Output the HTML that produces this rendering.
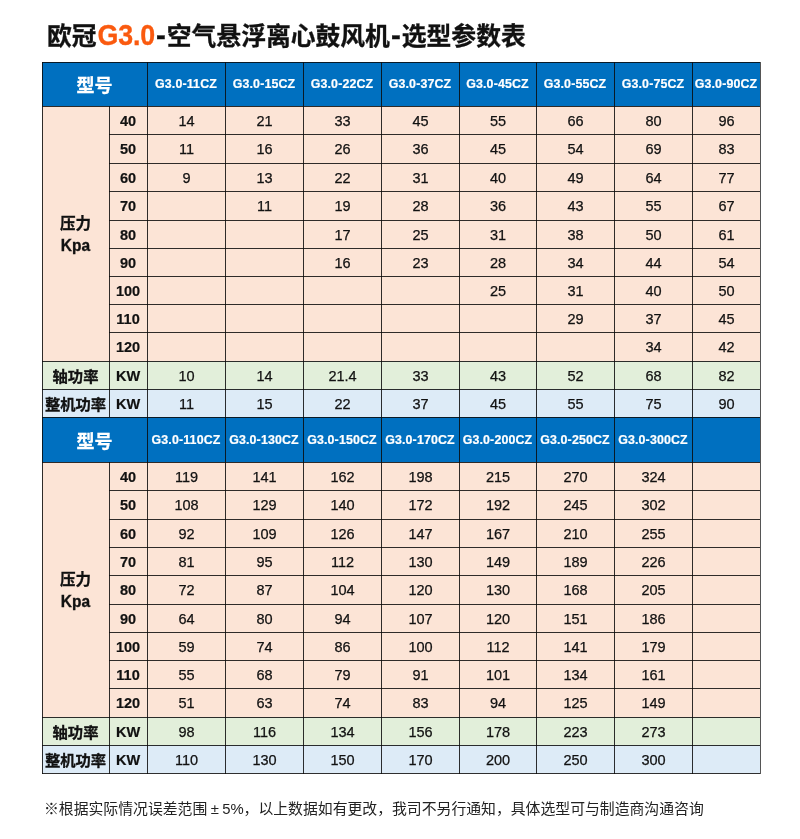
<!DOCTYPE html>
<html lang="zh-CN"><head><meta charset="utf-8"><title>欧冠G3.0-空气悬浮离心鼓风机-选型参数表</title>
<style>
html,body{margin:0;padding:0;background:#fff}
body{width:800px;height:839px;position:relative;overflow:hidden;font-family:"Liberation Sans","Noto Sans CJK SC",sans-serif;color:#111}
.c{position:absolute;display:flex;align-items:center;justify-content:center;text-align:center;white-space:nowrap;box-sizing:border-box}
.l{position:absolute;background:rgba(10,10,10,0.85)}
.r{background:#555}
.hm{color:#fff;font-weight:bold;font-size:18px;-webkit-text-stroke:0.3px #fff}
.hc{color:#fff;font-weight:bold;font-size:12.4px;letter-spacing:0.15px;-webkit-text-stroke:0.2px #fff}
.pl{font-weight:bold;font-size:15.5px;line-height:23px;padding-top:3px;-webkit-text-stroke:0.3px #111}
.rl{font-weight:bold;font-size:15.3px;-webkit-text-stroke:0.3px #111}
.k{font-weight:bold;font-size:14.5px;padding-top:1px;-webkit-text-stroke:0.2px #111}
.d{font-size:14.5px;padding-top:1px;padding-left:1px;-webkit-text-stroke:0.25px #111}

.kp{display:inline-block;transform:scaleY(1.1);transform-origin:50% 70%;position:relative;top:-1px}
.pm{display:inline-block;width:1em;text-align:center}
h1{position:absolute;left:47px;top:19px;margin:0;font-size:24.8px;line-height:36px;font-weight:bold;white-space:nowrap;color:#111;-webkit-text-stroke:0.3px #111}
h1 b{color:#fa5a0f;font-size:26.8px;letter-spacing:-0.2px;-webkit-text-stroke:0.3px #fa5a0f;display:inline-block;margin-left:1px;transform:scaleY(1.07);transform-origin:50% 78%;line-height:30px}
h1 i{font-style:normal;font-size:29.5px;line-height:20px;position:relative;top:0px;margin:0 1px}
.note{position:absolute;left:44px;top:798px;margin:0;font-size:14.85px;line-height:22px;white-space:nowrap;color:#222}
</style></head><body>
<h1>欧冠<b>G3.0</b><i>-</i>空气悬浮离心鼓风机<i>-</i>选型参数表</h1>
<div class="c hm" style="left:42px;top:62px;width:105px;height:44px;background:#0070c0">型号</div>
<div class="c hc" style="left:147px;top:62px;width:78px;height:44px;background:#0070c0">G3.0-11CZ</div>
<div class="c hc" style="left:225px;top:62px;width:78px;height:44px;background:#0070c0">G3.0-15CZ</div>
<div class="c hc" style="left:303px;top:62px;width:78px;height:44px;background:#0070c0">G3.0-22CZ</div>
<div class="c hc" style="left:381px;top:62px;width:78px;height:44px;background:#0070c0">G3.0-37CZ</div>
<div class="c hc" style="left:459px;top:62px;width:77px;height:44px;background:#0070c0">G3.0-45CZ</div>
<div class="c hc" style="left:536px;top:62px;width:78px;height:44px;background:#0070c0">G3.0-55CZ</div>
<div class="c hc" style="left:614px;top:62px;width:78px;height:44px;background:#0070c0">G3.0-75CZ</div>
<div class="c hc" style="left:692px;top:62px;width:68px;height:44px;background:#0070c0">G3.0-90CZ</div>
<div class="c pl" style="left:42px;top:106px;width:67px;height:255px;background:#fce4d6"><div>压力<br><span class="kp">Kpa</span></div></div>
<div class="c rl" style="left:42px;top:361px;width:67px;height:28px;background:#e2efda">轴功率</div>
<div class="c rl" style="left:42px;top:389px;width:67px;height:28px;background:#ddebf7">整机功率</div>
<div class="c k" style="left:109px;top:106px;width:38px;height:28px;background:#fce4d6">40</div>
<div class="c d" style="left:147px;top:106px;width:78px;height:28px;background:#fce4d6">14</div>
<div class="c d" style="left:225px;top:106px;width:78px;height:28px;background:#fce4d6">21</div>
<div class="c d" style="left:303px;top:106px;width:78px;height:28px;background:#fce4d6">33</div>
<div class="c d" style="left:381px;top:106px;width:78px;height:28px;background:#fce4d6">45</div>
<div class="c d" style="left:459px;top:106px;width:77px;height:28px;background:#fce4d6">55</div>
<div class="c d" style="left:536px;top:106px;width:78px;height:28px;background:#fce4d6">66</div>
<div class="c d" style="left:614px;top:106px;width:78px;height:28px;background:#fce4d6">80</div>
<div class="c d" style="left:692px;top:106px;width:68px;height:28px;background:#fce4d6">96</div>
<div class="c k" style="left:109px;top:134px;width:38px;height:29px;background:#fce4d6">50</div>
<div class="c d" style="left:147px;top:134px;width:78px;height:29px;background:#fce4d6">11</div>
<div class="c d" style="left:225px;top:134px;width:78px;height:29px;background:#fce4d6">16</div>
<div class="c d" style="left:303px;top:134px;width:78px;height:29px;background:#fce4d6">26</div>
<div class="c d" style="left:381px;top:134px;width:78px;height:29px;background:#fce4d6">36</div>
<div class="c d" style="left:459px;top:134px;width:77px;height:29px;background:#fce4d6">45</div>
<div class="c d" style="left:536px;top:134px;width:78px;height:29px;background:#fce4d6">54</div>
<div class="c d" style="left:614px;top:134px;width:78px;height:29px;background:#fce4d6">69</div>
<div class="c d" style="left:692px;top:134px;width:68px;height:29px;background:#fce4d6">83</div>
<div class="c k" style="left:109px;top:163px;width:38px;height:28px;background:#fce4d6">60</div>
<div class="c d" style="left:147px;top:163px;width:78px;height:28px;background:#fce4d6">9</div>
<div class="c d" style="left:225px;top:163px;width:78px;height:28px;background:#fce4d6">13</div>
<div class="c d" style="left:303px;top:163px;width:78px;height:28px;background:#fce4d6">22</div>
<div class="c d" style="left:381px;top:163px;width:78px;height:28px;background:#fce4d6">31</div>
<div class="c d" style="left:459px;top:163px;width:77px;height:28px;background:#fce4d6">40</div>
<div class="c d" style="left:536px;top:163px;width:78px;height:28px;background:#fce4d6">49</div>
<div class="c d" style="left:614px;top:163px;width:78px;height:28px;background:#fce4d6">64</div>
<div class="c d" style="left:692px;top:163px;width:68px;height:28px;background:#fce4d6">77</div>
<div class="c k" style="left:109px;top:191px;width:38px;height:29px;background:#fce4d6">70</div>
<div class="c d" style="left:147px;top:191px;width:78px;height:29px;background:#fce4d6"></div>
<div class="c d" style="left:225px;top:191px;width:78px;height:29px;background:#fce4d6">11</div>
<div class="c d" style="left:303px;top:191px;width:78px;height:29px;background:#fce4d6">19</div>
<div class="c d" style="left:381px;top:191px;width:78px;height:29px;background:#fce4d6">28</div>
<div class="c d" style="left:459px;top:191px;width:77px;height:29px;background:#fce4d6">36</div>
<div class="c d" style="left:536px;top:191px;width:78px;height:29px;background:#fce4d6">43</div>
<div class="c d" style="left:614px;top:191px;width:78px;height:29px;background:#fce4d6">55</div>
<div class="c d" style="left:692px;top:191px;width:68px;height:29px;background:#fce4d6">67</div>
<div class="c k" style="left:109px;top:220px;width:38px;height:28px;background:#fce4d6">80</div>
<div class="c d" style="left:147px;top:220px;width:78px;height:28px;background:#fce4d6"></div>
<div class="c d" style="left:225px;top:220px;width:78px;height:28px;background:#fce4d6"></div>
<div class="c d" style="left:303px;top:220px;width:78px;height:28px;background:#fce4d6">17</div>
<div class="c d" style="left:381px;top:220px;width:78px;height:28px;background:#fce4d6">25</div>
<div class="c d" style="left:459px;top:220px;width:77px;height:28px;background:#fce4d6">31</div>
<div class="c d" style="left:536px;top:220px;width:78px;height:28px;background:#fce4d6">38</div>
<div class="c d" style="left:614px;top:220px;width:78px;height:28px;background:#fce4d6">50</div>
<div class="c d" style="left:692px;top:220px;width:68px;height:28px;background:#fce4d6">61</div>
<div class="c k" style="left:109px;top:248px;width:38px;height:28px;background:#fce4d6">90</div>
<div class="c d" style="left:147px;top:248px;width:78px;height:28px;background:#fce4d6"></div>
<div class="c d" style="left:225px;top:248px;width:78px;height:28px;background:#fce4d6"></div>
<div class="c d" style="left:303px;top:248px;width:78px;height:28px;background:#fce4d6">16</div>
<div class="c d" style="left:381px;top:248px;width:78px;height:28px;background:#fce4d6">23</div>
<div class="c d" style="left:459px;top:248px;width:77px;height:28px;background:#fce4d6">28</div>
<div class="c d" style="left:536px;top:248px;width:78px;height:28px;background:#fce4d6">34</div>
<div class="c d" style="left:614px;top:248px;width:78px;height:28px;background:#fce4d6">44</div>
<div class="c d" style="left:692px;top:248px;width:68px;height:28px;background:#fce4d6">54</div>
<div class="c k" style="left:109px;top:276px;width:38px;height:28px;background:#fce4d6">100</div>
<div class="c d" style="left:147px;top:276px;width:78px;height:28px;background:#fce4d6"></div>
<div class="c d" style="left:225px;top:276px;width:78px;height:28px;background:#fce4d6"></div>
<div class="c d" style="left:303px;top:276px;width:78px;height:28px;background:#fce4d6"></div>
<div class="c d" style="left:381px;top:276px;width:78px;height:28px;background:#fce4d6"></div>
<div class="c d" style="left:459px;top:276px;width:77px;height:28px;background:#fce4d6">25</div>
<div class="c d" style="left:536px;top:276px;width:78px;height:28px;background:#fce4d6">31</div>
<div class="c d" style="left:614px;top:276px;width:78px;height:28px;background:#fce4d6">40</div>
<div class="c d" style="left:692px;top:276px;width:68px;height:28px;background:#fce4d6">50</div>
<div class="c k" style="left:109px;top:304px;width:38px;height:28px;background:#fce4d6">110</div>
<div class="c d" style="left:147px;top:304px;width:78px;height:28px;background:#fce4d6"></div>
<div class="c d" style="left:225px;top:304px;width:78px;height:28px;background:#fce4d6"></div>
<div class="c d" style="left:303px;top:304px;width:78px;height:28px;background:#fce4d6"></div>
<div class="c d" style="left:381px;top:304px;width:78px;height:28px;background:#fce4d6"></div>
<div class="c d" style="left:459px;top:304px;width:77px;height:28px;background:#fce4d6"></div>
<div class="c d" style="left:536px;top:304px;width:78px;height:28px;background:#fce4d6">29</div>
<div class="c d" style="left:614px;top:304px;width:78px;height:28px;background:#fce4d6">37</div>
<div class="c d" style="left:692px;top:304px;width:68px;height:28px;background:#fce4d6">45</div>
<div class="c k" style="left:109px;top:332px;width:38px;height:29px;background:#fce4d6">120</div>
<div class="c d" style="left:147px;top:332px;width:78px;height:29px;background:#fce4d6"></div>
<div class="c d" style="left:225px;top:332px;width:78px;height:29px;background:#fce4d6"></div>
<div class="c d" style="left:303px;top:332px;width:78px;height:29px;background:#fce4d6"></div>
<div class="c d" style="left:381px;top:332px;width:78px;height:29px;background:#fce4d6"></div>
<div class="c d" style="left:459px;top:332px;width:77px;height:29px;background:#fce4d6"></div>
<div class="c d" style="left:536px;top:332px;width:78px;height:29px;background:#fce4d6"></div>
<div class="c d" style="left:614px;top:332px;width:78px;height:29px;background:#fce4d6">34</div>
<div class="c d" style="left:692px;top:332px;width:68px;height:29px;background:#fce4d6">42</div>
<div class="c k" style="left:109px;top:361px;width:38px;height:28px;background:#e2efda">KW</div>
<div class="c d" style="left:147px;top:361px;width:78px;height:28px;background:#e2efda">10</div>
<div class="c d" style="left:225px;top:361px;width:78px;height:28px;background:#e2efda">14</div>
<div class="c d" style="left:303px;top:361px;width:78px;height:28px;background:#e2efda">21.4</div>
<div class="c d" style="left:381px;top:361px;width:78px;height:28px;background:#e2efda">33</div>
<div class="c d" style="left:459px;top:361px;width:77px;height:28px;background:#e2efda">43</div>
<div class="c d" style="left:536px;top:361px;width:78px;height:28px;background:#e2efda">52</div>
<div class="c d" style="left:614px;top:361px;width:78px;height:28px;background:#e2efda">68</div>
<div class="c d" style="left:692px;top:361px;width:68px;height:28px;background:#e2efda">82</div>
<div class="c k" style="left:109px;top:389px;width:38px;height:28px;background:#ddebf7">KW</div>
<div class="c d" style="left:147px;top:389px;width:78px;height:28px;background:#ddebf7">11</div>
<div class="c d" style="left:225px;top:389px;width:78px;height:28px;background:#ddebf7">15</div>
<div class="c d" style="left:303px;top:389px;width:78px;height:28px;background:#ddebf7">22</div>
<div class="c d" style="left:381px;top:389px;width:78px;height:28px;background:#ddebf7">37</div>
<div class="c d" style="left:459px;top:389px;width:77px;height:28px;background:#ddebf7">45</div>
<div class="c d" style="left:536px;top:389px;width:78px;height:28px;background:#ddebf7">55</div>
<div class="c d" style="left:614px;top:389px;width:78px;height:28px;background:#ddebf7">75</div>
<div class="c d" style="left:692px;top:389px;width:68px;height:28px;background:#ddebf7">90</div>
<div class="l" style="left:42px;top:62px;width:719px;height:1px"></div>
<div class="l" style="left:42px;top:106px;width:719px;height:1px"></div>
<div class="l" style="left:109px;top:134px;width:652px;height:1px"></div>
<div class="l" style="left:109px;top:163px;width:652px;height:1px"></div>
<div class="l" style="left:109px;top:191px;width:652px;height:1px"></div>
<div class="l" style="left:109px;top:220px;width:652px;height:1px"></div>
<div class="l" style="left:109px;top:248px;width:652px;height:1px"></div>
<div class="l" style="left:109px;top:276px;width:652px;height:1px"></div>
<div class="l" style="left:109px;top:304px;width:652px;height:1px"></div>
<div class="l" style="left:109px;top:332px;width:652px;height:1px"></div>
<div class="l" style="left:42px;top:361px;width:719px;height:1px"></div>
<div class="l" style="left:42px;top:389px;width:719px;height:1px"></div>
<div class="l" style="left:42px;top:417px;width:719px;height:1px"></div>
<div class="l" style="left:42px;top:62px;width:1px;height:356px"></div>
<div class="l" style="left:109px;top:106px;width:1px;height:312px"></div>
<div class="l" style="left:147px;top:62px;width:1px;height:356px"></div>
<div class="l" style="left:225px;top:62px;width:1px;height:356px"></div>
<div class="l" style="left:303px;top:62px;width:1px;height:356px"></div>
<div class="l" style="left:381px;top:62px;width:1px;height:356px"></div>
<div class="l" style="left:459px;top:62px;width:1px;height:356px"></div>
<div class="l" style="left:536px;top:62px;width:1px;height:356px"></div>
<div class="l" style="left:614px;top:62px;width:1px;height:356px"></div>
<div class="l" style="left:692px;top:62px;width:1px;height:356px"></div>
<div class="l r" style="left:760px;top:62px;width:1px;height:356px"></div>
<div class="c hm" style="left:42px;top:417px;width:105px;height:45px;background:#0070c0">型号</div>
<div class="c hc" style="left:147px;top:417px;width:78px;height:45px;background:#0070c0">G3.0-110CZ</div>
<div class="c hc" style="left:225px;top:417px;width:78px;height:45px;background:#0070c0">G3.0-130CZ</div>
<div class="c hc" style="left:303px;top:417px;width:78px;height:45px;background:#0070c0">G3.0-150CZ</div>
<div class="c hc" style="left:381px;top:417px;width:78px;height:45px;background:#0070c0">G3.0-170CZ</div>
<div class="c hc" style="left:459px;top:417px;width:77px;height:45px;background:#0070c0">G3.0-200CZ</div>
<div class="c hc" style="left:536px;top:417px;width:78px;height:45px;background:#0070c0">G3.0-250CZ</div>
<div class="c hc" style="left:614px;top:417px;width:78px;height:45px;background:#0070c0">G3.0-300CZ</div>
<div class="c hc" style="left:692px;top:417px;width:68px;height:45px;background:#0070c0"></div>
<div class="c pl" style="left:42px;top:462px;width:67px;height:255px;background:#fce4d6"><div>压力<br><span class="kp">Kpa</span></div></div>
<div class="c rl" style="left:42px;top:717px;width:67px;height:28px;background:#e2efda">轴功率</div>
<div class="c rl" style="left:42px;top:745px;width:67px;height:28px;background:#ddebf7">整机功率</div>
<div class="c k" style="left:109px;top:462px;width:38px;height:28px;background:#fce4d6">40</div>
<div class="c d" style="left:147px;top:462px;width:78px;height:28px;background:#fce4d6">119</div>
<div class="c d" style="left:225px;top:462px;width:78px;height:28px;background:#fce4d6">141</div>
<div class="c d" style="left:303px;top:462px;width:78px;height:28px;background:#fce4d6">162</div>
<div class="c d" style="left:381px;top:462px;width:78px;height:28px;background:#fce4d6">198</div>
<div class="c d" style="left:459px;top:462px;width:77px;height:28px;background:#fce4d6">215</div>
<div class="c d" style="left:536px;top:462px;width:78px;height:28px;background:#fce4d6">270</div>
<div class="c d" style="left:614px;top:462px;width:78px;height:28px;background:#fce4d6">324</div>
<div class="c d" style="left:692px;top:462px;width:68px;height:28px;background:#fce4d6"></div>
<div class="c k" style="left:109px;top:490px;width:38px;height:29px;background:#fce4d6">50</div>
<div class="c d" style="left:147px;top:490px;width:78px;height:29px;background:#fce4d6">108</div>
<div class="c d" style="left:225px;top:490px;width:78px;height:29px;background:#fce4d6">129</div>
<div class="c d" style="left:303px;top:490px;width:78px;height:29px;background:#fce4d6">140</div>
<div class="c d" style="left:381px;top:490px;width:78px;height:29px;background:#fce4d6">172</div>
<div class="c d" style="left:459px;top:490px;width:77px;height:29px;background:#fce4d6">192</div>
<div class="c d" style="left:536px;top:490px;width:78px;height:29px;background:#fce4d6">245</div>
<div class="c d" style="left:614px;top:490px;width:78px;height:29px;background:#fce4d6">302</div>
<div class="c d" style="left:692px;top:490px;width:68px;height:29px;background:#fce4d6"></div>
<div class="c k" style="left:109px;top:519px;width:38px;height:28px;background:#fce4d6">60</div>
<div class="c d" style="left:147px;top:519px;width:78px;height:28px;background:#fce4d6">92</div>
<div class="c d" style="left:225px;top:519px;width:78px;height:28px;background:#fce4d6">109</div>
<div class="c d" style="left:303px;top:519px;width:78px;height:28px;background:#fce4d6">126</div>
<div class="c d" style="left:381px;top:519px;width:78px;height:28px;background:#fce4d6">147</div>
<div class="c d" style="left:459px;top:519px;width:77px;height:28px;background:#fce4d6">167</div>
<div class="c d" style="left:536px;top:519px;width:78px;height:28px;background:#fce4d6">210</div>
<div class="c d" style="left:614px;top:519px;width:78px;height:28px;background:#fce4d6">255</div>
<div class="c d" style="left:692px;top:519px;width:68px;height:28px;background:#fce4d6"></div>
<div class="c k" style="left:109px;top:547px;width:38px;height:28px;background:#fce4d6">70</div>
<div class="c d" style="left:147px;top:547px;width:78px;height:28px;background:#fce4d6">81</div>
<div class="c d" style="left:225px;top:547px;width:78px;height:28px;background:#fce4d6">95</div>
<div class="c d" style="left:303px;top:547px;width:78px;height:28px;background:#fce4d6">112</div>
<div class="c d" style="left:381px;top:547px;width:78px;height:28px;background:#fce4d6">130</div>
<div class="c d" style="left:459px;top:547px;width:77px;height:28px;background:#fce4d6">149</div>
<div class="c d" style="left:536px;top:547px;width:78px;height:28px;background:#fce4d6">189</div>
<div class="c d" style="left:614px;top:547px;width:78px;height:28px;background:#fce4d6">226</div>
<div class="c d" style="left:692px;top:547px;width:68px;height:28px;background:#fce4d6"></div>
<div class="c k" style="left:109px;top:575px;width:38px;height:29px;background:#fce4d6">80</div>
<div class="c d" style="left:147px;top:575px;width:78px;height:29px;background:#fce4d6">72</div>
<div class="c d" style="left:225px;top:575px;width:78px;height:29px;background:#fce4d6">87</div>
<div class="c d" style="left:303px;top:575px;width:78px;height:29px;background:#fce4d6">104</div>
<div class="c d" style="left:381px;top:575px;width:78px;height:29px;background:#fce4d6">120</div>
<div class="c d" style="left:459px;top:575px;width:77px;height:29px;background:#fce4d6">130</div>
<div class="c d" style="left:536px;top:575px;width:78px;height:29px;background:#fce4d6">168</div>
<div class="c d" style="left:614px;top:575px;width:78px;height:29px;background:#fce4d6">205</div>
<div class="c d" style="left:692px;top:575px;width:68px;height:29px;background:#fce4d6"></div>
<div class="c k" style="left:109px;top:604px;width:38px;height:28px;background:#fce4d6">90</div>
<div class="c d" style="left:147px;top:604px;width:78px;height:28px;background:#fce4d6">64</div>
<div class="c d" style="left:225px;top:604px;width:78px;height:28px;background:#fce4d6">80</div>
<div class="c d" style="left:303px;top:604px;width:78px;height:28px;background:#fce4d6">94</div>
<div class="c d" style="left:381px;top:604px;width:78px;height:28px;background:#fce4d6">107</div>
<div class="c d" style="left:459px;top:604px;width:77px;height:28px;background:#fce4d6">120</div>
<div class="c d" style="left:536px;top:604px;width:78px;height:28px;background:#fce4d6">151</div>
<div class="c d" style="left:614px;top:604px;width:78px;height:28px;background:#fce4d6">186</div>
<div class="c d" style="left:692px;top:604px;width:68px;height:28px;background:#fce4d6"></div>
<div class="c k" style="left:109px;top:632px;width:38px;height:28px;background:#fce4d6">100</div>
<div class="c d" style="left:147px;top:632px;width:78px;height:28px;background:#fce4d6">59</div>
<div class="c d" style="left:225px;top:632px;width:78px;height:28px;background:#fce4d6">74</div>
<div class="c d" style="left:303px;top:632px;width:78px;height:28px;background:#fce4d6">86</div>
<div class="c d" style="left:381px;top:632px;width:78px;height:28px;background:#fce4d6">100</div>
<div class="c d" style="left:459px;top:632px;width:77px;height:28px;background:#fce4d6">112</div>
<div class="c d" style="left:536px;top:632px;width:78px;height:28px;background:#fce4d6">141</div>
<div class="c d" style="left:614px;top:632px;width:78px;height:28px;background:#fce4d6">179</div>
<div class="c d" style="left:692px;top:632px;width:68px;height:28px;background:#fce4d6"></div>
<div class="c k" style="left:109px;top:660px;width:38px;height:28px;background:#fce4d6">110</div>
<div class="c d" style="left:147px;top:660px;width:78px;height:28px;background:#fce4d6">55</div>
<div class="c d" style="left:225px;top:660px;width:78px;height:28px;background:#fce4d6">68</div>
<div class="c d" style="left:303px;top:660px;width:78px;height:28px;background:#fce4d6">79</div>
<div class="c d" style="left:381px;top:660px;width:78px;height:28px;background:#fce4d6">91</div>
<div class="c d" style="left:459px;top:660px;width:77px;height:28px;background:#fce4d6">101</div>
<div class="c d" style="left:536px;top:660px;width:78px;height:28px;background:#fce4d6">134</div>
<div class="c d" style="left:614px;top:660px;width:78px;height:28px;background:#fce4d6">161</div>
<div class="c d" style="left:692px;top:660px;width:68px;height:28px;background:#fce4d6"></div>
<div class="c k" style="left:109px;top:688px;width:38px;height:29px;background:#fce4d6">120</div>
<div class="c d" style="left:147px;top:688px;width:78px;height:29px;background:#fce4d6">51</div>
<div class="c d" style="left:225px;top:688px;width:78px;height:29px;background:#fce4d6">63</div>
<div class="c d" style="left:303px;top:688px;width:78px;height:29px;background:#fce4d6">74</div>
<div class="c d" style="left:381px;top:688px;width:78px;height:29px;background:#fce4d6">83</div>
<div class="c d" style="left:459px;top:688px;width:77px;height:29px;background:#fce4d6">94</div>
<div class="c d" style="left:536px;top:688px;width:78px;height:29px;background:#fce4d6">125</div>
<div class="c d" style="left:614px;top:688px;width:78px;height:29px;background:#fce4d6">149</div>
<div class="c d" style="left:692px;top:688px;width:68px;height:29px;background:#fce4d6"></div>
<div class="c k" style="left:109px;top:717px;width:38px;height:28px;background:#e2efda">KW</div>
<div class="c d" style="left:147px;top:717px;width:78px;height:28px;background:#e2efda">98</div>
<div class="c d" style="left:225px;top:717px;width:78px;height:28px;background:#e2efda">116</div>
<div class="c d" style="left:303px;top:717px;width:78px;height:28px;background:#e2efda">134</div>
<div class="c d" style="left:381px;top:717px;width:78px;height:28px;background:#e2efda">156</div>
<div class="c d" style="left:459px;top:717px;width:77px;height:28px;background:#e2efda">178</div>
<div class="c d" style="left:536px;top:717px;width:78px;height:28px;background:#e2efda">223</div>
<div class="c d" style="left:614px;top:717px;width:78px;height:28px;background:#e2efda">273</div>
<div class="c d" style="left:692px;top:717px;width:68px;height:28px;background:#e2efda"></div>
<div class="c k" style="left:109px;top:745px;width:38px;height:28px;background:#ddebf7">KW</div>
<div class="c d" style="left:147px;top:745px;width:78px;height:28px;background:#ddebf7">110</div>
<div class="c d" style="left:225px;top:745px;width:78px;height:28px;background:#ddebf7">130</div>
<div class="c d" style="left:303px;top:745px;width:78px;height:28px;background:#ddebf7">150</div>
<div class="c d" style="left:381px;top:745px;width:78px;height:28px;background:#ddebf7">170</div>
<div class="c d" style="left:459px;top:745px;width:77px;height:28px;background:#ddebf7">200</div>
<div class="c d" style="left:536px;top:745px;width:78px;height:28px;background:#ddebf7">250</div>
<div class="c d" style="left:614px;top:745px;width:78px;height:28px;background:#ddebf7">300</div>
<div class="c d" style="left:692px;top:745px;width:68px;height:28px;background:#ddebf7"></div>
<div class="l" style="left:42px;top:417px;width:719px;height:1px"></div>
<div class="l" style="left:42px;top:462px;width:719px;height:1px"></div>
<div class="l" style="left:109px;top:490px;width:652px;height:1px"></div>
<div class="l" style="left:109px;top:519px;width:652px;height:1px"></div>
<div class="l" style="left:109px;top:547px;width:652px;height:1px"></div>
<div class="l" style="left:109px;top:575px;width:652px;height:1px"></div>
<div class="l" style="left:109px;top:604px;width:652px;height:1px"></div>
<div class="l" style="left:109px;top:632px;width:652px;height:1px"></div>
<div class="l" style="left:109px;top:660px;width:652px;height:1px"></div>
<div class="l" style="left:109px;top:688px;width:652px;height:1px"></div>
<div class="l" style="left:42px;top:717px;width:719px;height:1px"></div>
<div class="l" style="left:42px;top:745px;width:719px;height:1px"></div>
<div class="l" style="left:42px;top:773px;width:719px;height:1px"></div>
<div class="l" style="left:42px;top:417px;width:1px;height:357px"></div>
<div class="l" style="left:109px;top:462px;width:1px;height:312px"></div>
<div class="l" style="left:147px;top:417px;width:1px;height:357px"></div>
<div class="l" style="left:225px;top:417px;width:1px;height:357px"></div>
<div class="l" style="left:303px;top:417px;width:1px;height:357px"></div>
<div class="l" style="left:381px;top:417px;width:1px;height:357px"></div>
<div class="l" style="left:459px;top:417px;width:1px;height:357px"></div>
<div class="l" style="left:536px;top:417px;width:1px;height:357px"></div>
<div class="l" style="left:614px;top:417px;width:1px;height:357px"></div>
<div class="l" style="left:692px;top:417px;width:1px;height:357px"></div>
<div class="l r" style="left:760px;top:417px;width:1px;height:357px"></div>
<p class="note">※根据实际情况误差范围<span class="pm">±</span>5%，以上数据如有更改，我司不另行通知，具体选型可与制造商沟通咨询</p>
</body></html>
